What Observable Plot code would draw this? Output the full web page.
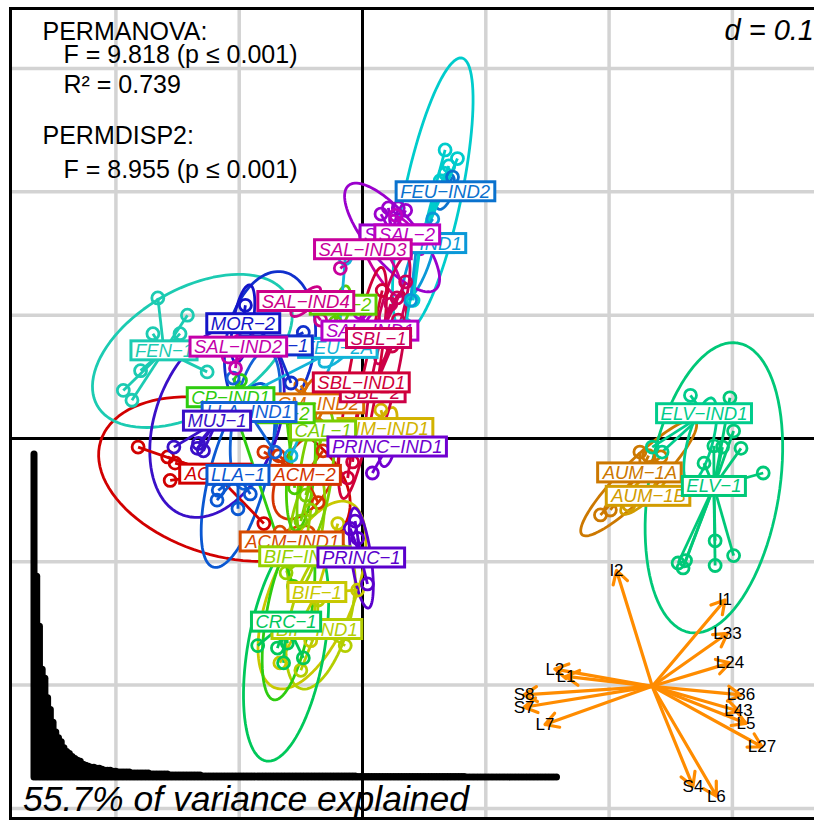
<!DOCTYPE html>
<html><head><meta charset="utf-8">
<script src="https://cdn.jsdelivr.net/npm/d3@7"></script>
<script src="https://cdn.jsdelivr.net/npm/@observablehq/plot@0.6"></script>
<style>
html,body{margin:0;padding:0;background:#fff;overflow:hidden;}
#wrap{position:relative;width:814px;height:821px;overflow:hidden;background:#fff;}
#wrap svg{position:absolute;left:0;top:0;}
</style></head>
<body><div id="wrap"></div>
<script>
// ---------- data ----------
const groups = ["ACM-1","ACM-2","ACM-IND1","ACM-IND2","AIM-IND1","AUM-1A","AUM-1B","BIF-1","BIF-IND1","BIF-IND2",
  "CAL-1","CAL-2","CP-2","CP-IND1","CRC-1","ELV-1","ELV-IND1","FEN-1","FEU-1","FEU-2A","FEU-IND1","FEU-IND2",
  "LLA-1","LLA-IND1","MOR-1","MOR-2","MUJ-1","PRINC-1","PRINC-IND1","SAL-1","SAL-2","SAL-IND1","SAL-IND2",
  "SAL-IND3","SAL-IND4","SBL-1","SBL-2","SBL-IND1"];
const groupColors = ["#d10000","#d43400","#d64a00","#d86c00","#d2b200","#cc7800","#d29c00","#c8c800","#b4ce00","#94d000",
  "#7ace00","#5ccc00","#48cc00","#2ecc10","#00c85a","#00c878","#00cc8c","#1ccbb2","#00cccc","#12b4d8","#0a98d8","#0a72ce",
  "#0a58d2","#1262d6","#1030cc","#1414c8","#3a10c8","#5a00cc","#7000d0","#9a00cc","#bc00c0","#b400c8","#c400aa",
  "#c8009c","#cc0088","#cc005a","#cc0046","#d00038"];
const centroidX = [-0.119,-0.047,-0.057,-0.041,0.019,0.225,0.232,-0.037,-0.037,-0.047,-0.032,-0.016,-0.062,-0.107,-0.062,
  0.285,0.277,-0.161,0.047,-0.020,0.044,0.067,-0.101,-0.092,-0.070,-0.097,-0.118,-0.001,0.020,0.024,0.036,0.006,-0.101,
  0.000,-0.046,0.013,0.008,-0.001];
const centroidY = [-0.029,-0.030,-0.084,0.028,0.008,-0.028,-0.047,-0.125,-0.155,-0.096,0.006,0.108,0.020,0.033,-0.149,
  -0.039,0.020,0.071,0.158,0.073,0.158,0.200,-0.030,0.021,0.075,0.093,0.014,-0.097,-0.007,0.165,0.165,0.087,0.074,
  0.153,0.111,0.081,0.037,0.045];
const ellipseCX = [-0.112,-0.046,-0.057,-0.041,0.019,0.224,0.230,-0.041,-0.034,-0.046,-0.038,-0.016,-0.050,-0.060,-0.062,
  0.285,0.274,-0.138,0.057,-0.020,0.046,0.067,-0.101,-0.087,-0.075,-0.097,-0.118,-0.001,0.020,0.024,0.036,0.006,-0.101,
  0.015,-0.046,0.024,0.019,0.000];
const ellipseCY = [-0.033,-0.030,-0.084,0.028,0.008,-0.032,-0.041,-0.127,-0.144,-0.075,-0.030,0.108,-0.026,-0.144,-0.170,
  -0.040,-0.002,0.071,0.197,0.073,0.143,0.200,-0.030,0.015,0.075,0.093,0.014,-0.097,-0.007,0.163,0.165,0.087,0.074,
  0.143,0.111,0.104,0.055,0.045];
const ellipseA = [0.105,0.039,0.020,0.024,0.018,0.065,0.028,0.081,0.061,0.049,0.057,0.016,0.049,0.069,0.093,0.119,0.036,
  0.089,0.114,0.020,0.032,0.015,0.077,0.057,0.061,0.032,0.081,0.041,0.016,0.055,0.020,0.016,0.016,0.032,0.016,0.045,0.065,0.095];
const ellipseB = [0.062,0.021,0.010,0.010,0.007,0.014,0.008,0.034,0.024,0.013,0.013,0.006,0.011,0.018,0.031,0.053,0.010,
  0.050,0.023,0.008,0.008,0.006,0.023,0.018,0.036,0.008,0.050,0.008,0.006,0.020,0.007,0.006,0.008,0.008,0.006,0.009,0.010,0.012];
const ellipseAngle = [-17,60,30,70,70,45,45,68,75,80,82,80,85,80,80,80.6,75,30,78,45,70,70,75,80,80,80,70,98,80,-50,-50,
  70,45,-60,45,75,78,80.6];

const samplePoints = [
  ["ACM-1",-0.182,-0.007],["ACM-1",-0.158,-0.015],["ACM-1",-0.152,-0.020],["ACM-1",-0.156,-0.034],["ACM-1",-0.080,-0.069],
  ["ACM-2",-0.080,-0.011],["ACM-2",-0.068,-0.014],["ACM-2",-0.032,-0.010],["ACM-2",-0.036,-0.052],
  ["ACM-IND1",-0.067,-0.076],["ACM-IND1",-0.046,-0.089],
  ["ACM-IND2",-0.050,0.043],["ACM-IND2",-0.036,0.011],
  ["AIM-IND1",0.015,0.023],["AIM-IND1",0.027,-0.006],
  ["AUM-1A",0.225,-0.011],["AUM-1A",0.232,-0.014],["AUM-1A",0.242,-0.015],["AUM-1A",0.193,-0.062],["AUM-1A",0.201,-0.058],
  ["AUM-1B",0.216,-0.054],["AUM-1B",0.243,-0.026],
  ["BIF-1",-0.020,-0.069],["BIF-1",-0.004,-0.123],["BIF-1",-0.067,-0.182],["BIF-1",-0.042,-0.164],
  ["BIF-IND1",-0.050,-0.188],["BIF-IND1",-0.036,-0.131],["BIF-IND1",-0.014,-0.168],
  ["BIF-IND2",-0.062,-0.109],["BIF-IND2",-0.042,-0.058],
  ["CAL-1",-0.046,-0.046],["CAL-1",-0.050,-0.067],
  ["CAL-2",-0.022,0.094],
  ["CP-2",-0.055,-0.040],
  ["CP-IND1",-0.099,0.047],["CP-IND1",-0.056,-0.120],
  ["CRC-1",-0.085,-0.168],["CRC-1",-0.069,-0.170],["CRC-1",-0.061,-0.166],["CRC-1",-0.048,-0.178],["CRC-1",-0.064,-0.182],
  ["ELV-1",0.298,0.033],["ELV-1",0.301,0.006],["ELV-1",0.307,-0.008],["ELV-1",0.285,-0.006],["ELV-1",0.277,-0.020],
  ["ELV-1",0.292,-0.007],["ELV-1",0.325,-0.028],["ELV-1",0.286,-0.083],["ELV-1",0.301,-0.095],["ELV-1",0.286,-0.103],
  ["ELV-1",0.256,-0.101],["ELV-1",0.260,-0.105],["ELV-1",0.262,-0.099],
  ["ELV-IND1",0.235,-0.007],["ELV-IND1",0.243,-0.011],["ELV-IND1",0.266,0.035],
  ["FEN-1",-0.166,0.114],["FEN-1",-0.142,0.100],["FEN-1",-0.170,0.085],["FEN-1",-0.148,0.085],["FEN-1",-0.180,0.055],
  ["FEN-1",-0.194,0.039],["FEN-1",-0.187,0.031],["FEN-1",-0.126,0.054],
  ["FEU-1",0.067,0.234],["FEU-1",0.077,0.227],["FEU-1",0.070,0.221],["FEU-1",0.067,0.215],["FEU-1",0.063,0.209],
  ["FEU-1",0.035,0.092],["FEU-1",0.041,0.112],
  ["FEU-2A",-0.014,0.146],["FEU-2A",-0.091,0.037],["FEU-2A",-0.058,-0.014],
  ["FEU-IND1",0.057,0.178],["FEU-IND1",0.039,0.112],
  ["FEU-IND2",0.073,0.212],
  ["LLA-1",-0.118,-0.050],["LLA-1",-0.101,-0.057],["LLA-1",-0.091,-0.045],["LLA-1",-0.117,-0.042],
  ["LLA-IND1",-0.105,0.049],["LLA-IND1",-0.071,-0.011],
  ["MOR-1",-0.048,0.086],["MOR-1",-0.058,0.045],
  ["MOR-2",-0.095,0.108],
  ["MUJ-1",-0.153,-0.007],["MUJ-1",-0.134,-0.008],["MUJ-1",-0.129,-0.010],["MUJ-1",-0.133,-0.004],
  ["PRINC-1",-0.010,-0.073],["PRINC-1",-0.004,-0.081],["PRINC-1",-0.006,-0.067],["PRINC-1",0.004,-0.118],
  ["PRINC-IND1",0.008,-0.028],
  ["SAL-1",0.015,0.182],["SAL-1",0.021,0.187],["SAL-1",0.029,0.187],["SAL-1",0.035,0.185],
  ["SAL-2",0.027,0.181],
  ["SAL-IND1",-0.002,0.102],
  ["SAL-IND2",-0.103,0.057],
  ["SAL-IND3",-0.018,0.138],
  ["SAL-IND4",-0.034,0.096],
  ["SBL-1",0.023,0.109],["SBL-1",0.028,0.114],["SBL-1",0.035,0.127],
  ["SBL-2",0.029,0.096],["SBL-2",0.024,0.075],
  ["SBL-IND1",0.016,0.120],["SBL-IND1",-0.012,-0.032],["SBL-IND1",-0.008,-0.019]
];

// biplot of variables
const arrowOrigin = [0.235, -0.201];
const arrowVars = ["I2","I1","L33","L24","L2","L1","S8","S7","L7","L36","L43","L5","L27","S4","L6"];
const arrowX = [0.206,0.294,0.296,0.298,0.156,0.165,0.131,0.131,0.148,0.307,0.305,0.311,0.324,0.268,0.287];
const arrowY = [-0.107,-0.131,-0.158,-0.182,-0.187,-0.193,-0.208,-0.218,-0.232,-0.208,-0.221,-0.231,-0.250,-0.282,-0.290];

// grid
const gridX = [-0.2,-0.1,0.1,0.2,0.3];
const gridY = [-0.3,-0.2,-0.1,0.1,0.2,0.3];

// text
const statsLines = ["PERMANOVA:", "F = 9.818 (p \u2264 0.001)", "R\u00B2 = 0.739", "PERMDISP2:", "F = 8.955 (p \u2264 0.001)"];
const scaleLabel = "d = 0.1";
const screeLabel = "55.7% of variance explained";

// eigenvalues (scree inset)
const eigenvalues = [330,205,154,110,101,81,69,56,46,40,36,30,26,24,21,19,17,16,13,12,11,10,10,9,9,8,7,7,7,
  6,6,5,5,5,5,5,4,4,4,4,4,4,4,
  3,3,3,3,3,3,3,2,2,2,2,2,2,2,2,2,2,2,2,
  1,1,1,1,1,1,1,1,1,1,1,1,1,1,1,1,1,1,1,1,1,1,1,1,1,1,1,1,1,1,1,1,1,1,1,1,1,
  1,1,1,1,1,1,1,1,1,1,1,1,1,1,1,1,1,1,1,1,
  0.5,0.5,0.5,0.5,0.5,0.5,0.5,0.5,0.5,0.5,0.5,0.5,0.5,0.5,0.5,0.5,0.5,0.5,0.5,0.5,
  0.5,0.5,0.5,0.5,0.5,0.5,0.5,0.5,0.5,0.5,0.5,0.5,0.5,0.5,0.5,0.5,0.5,0.5,0.5,0.5,
  0,0,0,0,0,0,0,0,0,0,0,0,0,0,0,0,0,0,0,0,0,0,0,0,0,0,0,0,0,0,0,0,0,0];

// ---------- build ----------
const FONT = "'Liberation Sans', Arial, Helvetica, sans-serif";
const colorOf = Object.fromEntries(groups.map((g, i) => [g, groupColors[i]]));
const idxOf = Object.fromEntries(groups.map((g, i) => [g, i]));

const ellipsePts = [];
groups.forEach((g, i) => {
  const phi = ellipseAngle[i] * Math.PI / 180;
  for (let k = 0; k <= 96; k++) {
    const t = 2 * Math.PI * k / 96;
    const ca = ellipseA[i] * Math.cos(t), sb = ellipseB[i] * Math.sin(t);
    ellipsePts.push({g, color: groupColors[i],
      x: ellipseCX[i] + ca * Math.cos(phi) - sb * Math.sin(phi),
      y: ellipseCY[i] + ca * Math.sin(phi) + sb * Math.cos(phi)});
  }
});
const pts = samplePoints.map(([g, x, y]) => ({g, x, y, color: colorOf[g], cx: centroidX[idxOf[g]], cy: centroidY[idxOf[g]]}));
const labels = groups.map((g, i) => ({g, x: centroidX[i], y: centroidY[i], color: groupColors[i], text: g.replace(/-/g, "\u2212")}));
const arrows = arrowVars.map((v, i) => ({v, x: arrowX[i], y: arrowY[i]}));

const common = {
  width: 850, height: 821, marginLeft: 10, marginRight: 0, marginTop: 8, marginBottom: 3,
  x: {domain: [-0.2855, 0.3958], axis: null},
  y: {domain: [-0.3082, 0.3487], axis: null},
  color: {type: "identity"},
  style: {background: "transparent", maxWidth: "none", overflow: "visible", fontFamily: FONT}
};

const txt = (s, dx, dy, opts = {}) => Plot.text([s], {text: d => d, frameAnchor: "top-left", textAnchor: "start",
  lineAnchor: "bottom", dx, dy, fontSize: 25, fill: "black", ...opts});

const main = Plot.plot({
  ...common,
  marks: [
    Plot.ruleX(gridX, {stroke: "#d3d3d3", strokeWidth: 3.5}),
    Plot.ruleY(gridY, {stroke: "#d3d3d3", strokeWidth: 3.5}),
    Plot.ruleX([0], {stroke: "black", strokeWidth: 3}),
    Plot.ruleY([0], {stroke: "black", strokeWidth: 3}),
    Plot.frame({stroke: "black", strokeWidth: 3}),
    Plot.line(ellipsePts, {x: "x", y: "y", z: "g", stroke: "color", strokeWidth: 2.8}),
    Plot.link(pts, {x1: "cx", y1: "cy", x2: "x", y2: "y", stroke: "color", strokeWidth: 2.8}),
    Plot.dot(pts, {x: "x", y: "y", r: 6, stroke: "color", strokeWidth: 2.8, fill: "none"}),
    Plot.arrow(arrows, {x1: () => arrowOrigin[0], y1: () => arrowOrigin[1], x2: "x", y2: "y",
      stroke: "#ff8c00", strokeWidth: 3.2, headLength: 7, headAngle: 60}),
    Plot.text(arrows, {x: "x", y: "y", text: "v", fill: "black", fontSize: 17}),
    txt(statsLines[0], 32, 31),
    txt(statsLines[1], 53, 54),
    txt(statsLines[2], 53, 84),
    txt(statsLines[3], 32, 135),
    txt(statsLines[4], 53, 169),
    txt(scaleLabel, 714, 31, {fontStyle: "italic", fontSize: 29})
  ]
});

const scree = Plot.plot({
  width: 814, height: 821, marginLeft: 33.5, marginRight: 258, marginTop: 454, marginBottom: 44,
  x: {domain: [1, eigenvalues.length], axis: null},
  y: {domain: [0, 330], axis: null},
  style: {background: "transparent", maxWidth: "none", overflow: "visible", fontFamily: FONT},
  marks: [
    Plot.ruleX(eigenvalues, {x: (d, i) => i + 1, y1: 0, y2: d => d, stroke: "black", strokeWidth: 7, strokeLinecap: "round"}),
    Plot.text([screeLabel], {text: d => d, frameAnchor: "bottom-left", textAnchor: "start", lineAnchor: "bottom",
      dx: -11, dy: 33, fontSize: 35.5, fontStyle: "italic", fill: "black"})
  ]
});

const lab = Plot.plot({
  ...common,
  marks: [
    Plot.text(labels, {x: "x", y: "y", text: "text", fill: "color", fontSize: 18.5, fontStyle: "italic"})
  ]
});

const wrap = document.getElementById("wrap");
wrap.appendChild(main);
wrap.appendChild(scree);
wrap.appendChild(lab);

// draw label boxes behind each label (in label order)
lab.querySelectorAll("text").forEach(t => {
  const bb = t.getBBox();
  const r = document.createElementNS("http://www.w3.org/2000/svg", "rect");
  r.setAttribute("x", bb.x - 4);
  r.setAttribute("y", bb.y + 1);
  r.setAttribute("width", bb.width + 8);
  r.setAttribute("height", bb.height - 2);
  r.setAttribute("fill", "white");
  r.setAttribute("stroke", t.getAttribute("fill") || "black");
  r.setAttribute("stroke-width", 3);
  const tr = t.getAttribute("transform");
  if (tr) r.setAttribute("transform", tr);
  t.parentNode.insertBefore(r, t);
});
</script>
</body></html>
